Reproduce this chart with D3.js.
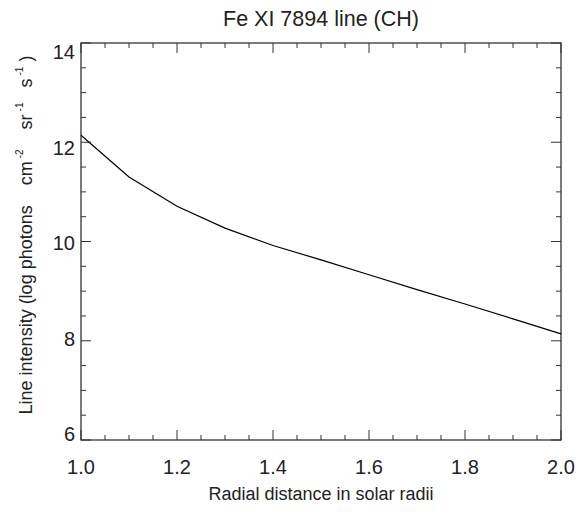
<!DOCTYPE html>
<html>
<head>
<meta charset="utf-8">
<script src="https://cdn.jsdelivr.net/npm/d3@7"></script>
<style>
  body { margin: 0; background: #fff; }
  text { font-family: "Liberation Sans", Arial, sans-serif; fill: #222; }
</style>
</head>
<body>
<div id="plot"></div>
<script>
// data
const radius = [1.0, 1.1, 1.2, 1.3, 1.4, 1.5, 1.6, 1.7, 1.8, 1.9, 2.0];
const intensity = [12.14, 11.30, 10.71, 10.27, 9.92, 9.63, 9.33, 9.03, 8.74, 8.44, 8.14];
const xTicks = [1.0, 1.2, 1.4, 1.6, 1.8, 2.0];
const yTicks = [6, 8, 10, 12, 14];

const width = 578, height = 512;
const leftEdge = 81, rightEdge = 561, topEdge = 43, bottomEdge = 440;

const svg = d3.select("#plot")
    .append("svg")
    .attr("width", width)
    .attr("height", height);

const x = d3.scaleLinear().domain([1.0, 2.0]).range([leftEdge, rightEdge]);
const y = d3.scaleLinear().domain([6, 14]).range([bottomEdge, topEdge]);
// the y labels sit a little inside the end ticks, as in the original
const yLab = d3.scaleLinear().domain([6, 14]).range([434, 52]);

const frameColor = "#333";

// minor / major ticks, pointing inward on all four sides
const xMinor = d3.range(1.0, 2.0001, 0.05);
const yMinor = d3.range(6, 14.0001, 0.5);

const isMajorX = v => xTicks.some(t => Math.abs(t - v) < 1e-6);
const isMajorY = v => yTicks.some(t => Math.abs(t - v) < 1e-6);

svg.append("g").selectAll("line").data(xMinor).enter().append("line")
    .attr("x1", d => x(d)).attr("x2", d => x(d))
    .attr("y1", bottomEdge).attr("y2", d => bottomEdge - (isMajorX(d) ? 10 : 5))
    .attr("stroke", frameColor);

svg.append("g").selectAll("line").data(xMinor).enter().append("line")
    .attr("x1", d => x(d)).attr("x2", d => x(d))
    .attr("y1", topEdge).attr("y2", d => topEdge + (isMajorX(d) ? 10 : 5))
    .attr("stroke", frameColor);

svg.append("g").selectAll("line").data(yMinor).enter().append("line")
    .attr("y1", d => y(d)).attr("y2", d => y(d))
    .attr("x1", leftEdge).attr("x2", d => leftEdge + (isMajorY(d) ? 10 : 5))
    .attr("stroke", frameColor);

svg.append("g").selectAll("line").data(yMinor).enter().append("line")
    .attr("y1", d => y(d)).attr("y2", d => y(d))
    .attr("x1", rightEdge).attr("x2", d => rightEdge - (isMajorY(d) ? 10 : 5))
    .attr("stroke", frameColor);

// frame
svg.append("rect")
    .attr("x", leftEdge).attr("y", topEdge)
    .attr("width", rightEdge - leftEdge).attr("height", bottomEdge - topEdge)
    .attr("fill", "none")
    .attr("stroke", frameColor)
    .attr("stroke-width", 1.3);

// tick labels
svg.selectAll("text.xlab").data(xTicks).enter().append("text")
    .attr("class", "xlab")
    .attr("x", d => x(d))
    .attr("y", bottomEdge + 34)
    .attr("text-anchor", "middle")
    .style("font-size", "20px")
    .text(d => d.toFixed(1));

svg.selectAll("text.ylab").data(yTicks).enter().append("text")
    .attr("class", "ylab")
    .attr("x", leftEdge - 6)
    .attr("y", d => yLab(d) + 7)
    .attr("text-anchor", "end")
    .style("font-size", "20px")
    .text(d => d);

// the curve
const line = d3.line()
    .x((d, i) => x(radius[i]))
    .y(d => y(d));

svg.append("path")
    .datum(intensity)
    .attr("d", line)
    .attr("fill", "none")
    .attr("stroke", "#000")
    .attr("stroke-width", 1.2);

// titles
svg.append("text")
    .attr("x", (leftEdge + rightEdge) / 2)
    .attr("y", 26)
    .attr("text-anchor", "middle")
    .style("font-size", "21.5px")
    .text("Fe XI 7894 line (CH)");

svg.append("text")
    .attr("x", (leftEdge + rightEdge) / 2)
    .attr("y", bottomEdge + 60)
    .attr("text-anchor", "middle")
    .style("font-size", "18px")
    .text("Radial distance in solar radii");

const ylab = svg.append("text")
    .attr("transform", `translate(32, 235) rotate(-90)`)
    .attr("text-anchor", "middle")
    .attr("xml:space", "preserve")
    .style("white-space", "pre")
    .style("font-size", "18px");

ylab.append("tspan").text("Line intensity (log photons    cm");
ylab.append("tspan").attr("dy", -9).attr("dx", 3).style("font-size", "10px").text("-2");
ylab.append("tspan").attr("dy", 9).text("    sr");
ylab.append("tspan").attr("dy", -9).attr("dx", 3).style("font-size", "10px").text("-1");
ylab.append("tspan").attr("dy", 9).text("   s");
ylab.append("tspan").attr("dy", -9).attr("dx", 3).style("font-size", "10px").text("-1");
ylab.append("tspan").attr("dy", 9).text(" )");
</script>
</body>
</html>
